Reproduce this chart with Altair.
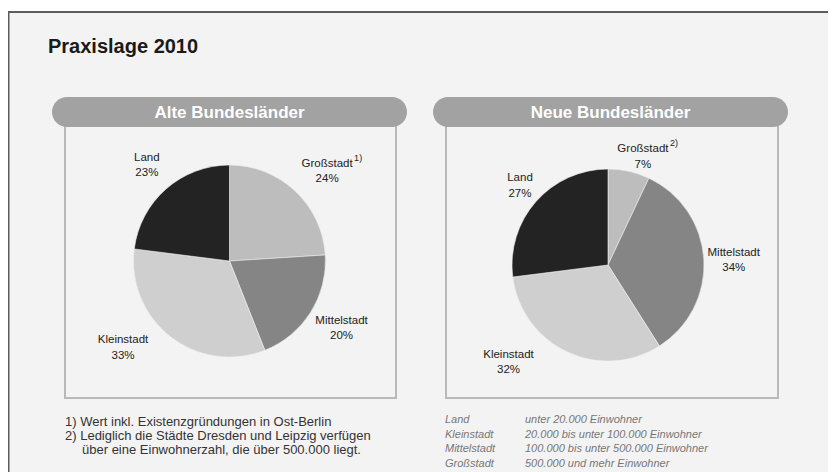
import altair as alt
import pandas as pd

# ---------------- data ----------------
chart_title = "Praxislage 2010"
panel_titles = ["Alte Bundesländer", "Neue Bundesländer"]
categories = ["Großstadt", "Mittelstadt", "Kleinstadt", "Land"]
alte_values = [24, 20, 33, 23]
neue_values = [7, 34, 32, 27]
footnote_marks = ["1)", "2)"]
footnotes = [
    "1) Wert inkl. Existenzgründungen in Ost-Berlin",
    "2) Lediglich die Städte Dresden und Leipzig verfügen",
    "über eine Einwohnerzahl, die über 500.000 liegt.",
]
legend_terms = ["Land", "Kleinstadt", "Mittelstadt", "Großstadt"]
legend_defs = [
    "unter 20.000 Einwohner",
    "20.000 bis unter 100.000 Einwohner",
    "100.000 bis unter 500.000 Einwohner",
    "500.000 und mehr Einwohner",
]

# ---------------- styles / layout ----------------
W, H = 820, 464
FONT = "Liberation Sans"
slice_colors = ["#bdbdbd", "#858585", "#cfcfcf", "#232323"]
BG = "#f3f3f3"

panels = [
    dict(values=alte_values, title=panel_titles[0], mark=footnote_marks[0],
         pill=(44, 399), box=(57, 388), center=(221.5, 253),
         nudge={"Großstadt": (10, -4), "Mittelstadt": (4, -9), "Kleinstadt": (-28, -22), "Land": (2, -7)}),
    dict(values=neue_values, title=panel_titles[1], mark=footnote_marks[1],
         pill=(425, 780), box=(438, 770), center=(600, 257),
         nudge={"Großstadt": (7, 9), "Mittelstadt": (-2, -4), "Kleinstadt": (-45, -26), "Land": (8, -2)}),
]
PIE_R = 96
LABEL_R = 128

one = alt.Chart(pd.DataFrame({"a": [0]}))

layers = []

# white strip above frame
layers.append(one.mark_rect(color="white").encode(
    x=alt.value(0), x2=alt.value(W), y=alt.value(0), y2=alt.value(3)))
# frame lines
layers.append(one.mark_rule(color="#5c5c5c", strokeWidth=2).encode(
    x=alt.value(0), x2=alt.value(W), y=alt.value(4)))
layers.append(one.mark_rule(color="#5c5c5c", strokeWidth=2).encode(
    x=alt.value(0.5), y=alt.value(4), y2=alt.value(H)))

# title
layers.append(one.mark_text(font=FONT, fontSize=20, fontWeight="bold", color="#1a1a1a",
                            align="left", baseline="middle").encode(
    x=alt.value(40), y=alt.value(39), text=alt.value(chart_title)))

for p in panels:
    cx, cy = p["center"]
    df = pd.DataFrame({
        "category": categories,
        "value": p["values"],
        "idx": list(range(len(categories))),
    })
    df["label"] = [f"{c}\n{v}%" for c, v in zip(df["category"], df["value"])]
    base = alt.Chart(df)

    # box
    layers.append(one.mark_rect(fill=BG, stroke="#b9b9b9", strokeWidth=2).encode(
        x=alt.value(p["box"][0]), x2=alt.value(p["box"][1]),
        y=alt.value(115), y2=alt.value(390)))
    # pill header
    layers.append(one.mark_rect(fill="#a2a2a2", cornerRadius=15).encode(
        x=alt.value(p["pill"][0]), x2=alt.value(p["pill"][1]),
        y=alt.value(89), y2=alt.value(119)))
    layers.append(one.mark_text(font=FONT, fontSize=17, fontWeight="bold", color="white",
                                align="center", baseline="middle").encode(
        x=alt.value((p["pill"][0] + p["pill"][1]) / 2), y=alt.value(104.5),
        text=alt.value(p["title"])))

    # pie
    layers.append(base.mark_arc(outerRadius=PIE_R, stroke="#eeeeee", strokeWidth=0.6).encode(
        theta=alt.Theta("value:Q", stack=True),
        order=alt.Order("idx:Q", sort="ascending"),
        color=alt.Color("category:N", scale=alt.Scale(domain=categories, range=slice_colors), legend=None),
        x=alt.value(cx), y=alt.value(cy),
    ))
    # labels
    for cat in categories:
        dx, dy = p["nudge"][cat]
        layers.append(base.mark_text(font=FONT, fontSize=11.5, color="#222222", radius=LABEL_R,
                                     align="center", baseline="middle", lineBreak="\n",
                                     lineHeight=15.5, dx=dx, dy=dy).encode(
            theta=alt.Theta("value:Q", stack=True),
            order=alt.Order("idx:Q", sort="ascending"),
            x=alt.value(cx), y=alt.value(cy),
            text="label:N",
            opacity=alt.condition(alt.datum.category == cat, alt.value(1), alt.value(0)),
        ))
        if cat == "Großstadt":
            layers.append(base.mark_text(font=FONT, fontSize=9, color="#222222", radius=LABEL_R,
                                         align="left", baseline="middle",
                                         dx=dx + 27, dy=dy - 6).encode(
                theta=alt.Theta("value:Q", stack=True),
                order=alt.Order("idx:Q", sort="ascending"),
                x=alt.value(cx), y=alt.value(cy),
                text=alt.value(p["mark"]),
                opacity=alt.condition(alt.datum.category == cat, alt.value(1), alt.value(0)),
            ))

# footnotes
layers.append(one.mark_text(font=FONT, fontSize=13, color="#333333", align="left",
                            baseline="top", lineBreak="\n", lineHeight=14).encode(
    x=alt.value(57), y=alt.value(408), text=alt.value("\n".join(footnotes[:2]))))
layers.append(one.mark_text(font=FONT, fontSize=13, color="#333333", align="left",
                            baseline="top").encode(
    x=alt.value(74), y=alt.value(436), text=alt.value(footnotes[2])))

# legend of city sizes
layers.append(one.mark_text(font=FONT, fontSize=11, fontStyle="italic", color="#777777",
                            align="left", baseline="top", lineBreak="\n", lineHeight=14.6).encode(
    x=alt.value(437), y=alt.value(406), text=alt.value("\n".join(legend_terms))))
layers.append(one.mark_text(font=FONT, fontSize=11, fontStyle="italic", color="#777777",
                            align="left", baseline="top", lineBreak="\n", lineHeight=14.6).encode(
    x=alt.value(517), y=alt.value(406), text=alt.value("\n".join(legend_defs))))

chart = alt.layer(*layers).properties(
    width=W, height=H, background=BG, padding=0,
    autosize=alt.AutoSizeParams(type="none"),
).configure_view(stroke=None)

chart.save("out.html", embed_options={"renderer": "svg", "actions": False})
